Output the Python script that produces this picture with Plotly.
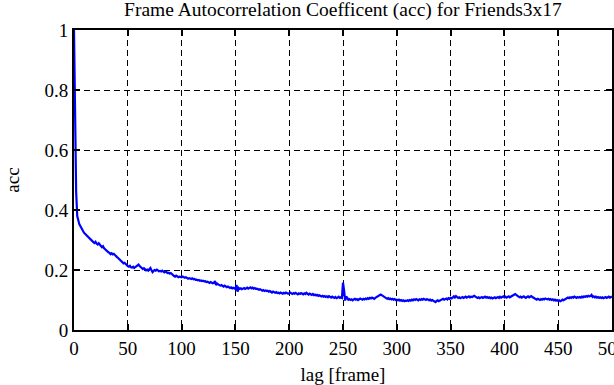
import plotly.graph_objects as go

title_text = "Frame Autocorrelation Coefficent (acc) for Friends3x17"
x_label = "lag [frame]"
y_label = "acc"
x_ticks = [0, 50, 100, 150, 200, 250, 300, 350, 400, 450, 500]
y_ticks = [0, 0.2, 0.4, 0.6, 0.8, 1]
y_tick_labels = ["0", "0.2", "0.4", "0.6", "0.8", "1"]

acc = [
    1.000, 0.700, 0.460, 0.380, 0.362, 0.352, 0.346, 0.338, 0.332, 0.326,
    0.322, 0.318, 0.314, 0.311, 0.306, 0.304, 0.300, 0.297, 0.293, 0.290,
    0.294, 0.288, 0.285, 0.289, 0.283, 0.280, 0.276, 0.279, 0.272, 0.268,
    0.266, 0.262, 0.259, 0.257, 0.253, 0.256, 0.252, 0.254, 0.249, 0.246,
    0.243, 0.240, 0.236, 0.233, 0.229, 0.226, 0.222, 0.224, 0.219, 0.216,
    0.213, 0.211, 0.214, 0.209, 0.208, 0.211, 0.207, 0.210, 0.212, 0.216,
    0.218, 0.213, 0.209, 0.205, 0.203, 0.206, 0.202, 0.199, 0.201, 0.198,
    0.203, 0.207, 0.199, 0.193, 0.197, 0.200, 0.198, 0.201, 0.199, 0.196,
    0.197, 0.195, 0.198, 0.194, 0.192, 0.195, 0.193, 0.190, 0.191, 0.188,
    0.190, 0.186, 0.183, 0.180, 0.178, 0.181, 0.179, 0.176, 0.178, 0.177,
    0.176, 0.178, 0.175, 0.174, 0.176, 0.173, 0.171, 0.173, 0.172, 0.170,
    0.172, 0.169, 0.170, 0.167, 0.168, 0.166, 0.167, 0.164, 0.165, 0.163,
    0.164, 0.162, 0.163, 0.160, 0.161, 0.159, 0.157, 0.160, 0.158, 0.156,
    0.157, 0.163, 0.150, 0.155, 0.152, 0.150, 0.148, 0.150, 0.147, 0.145,
    0.148, 0.146, 0.143, 0.145, 0.142, 0.140, 0.142, 0.139, 0.141, 0.138,
    0.137, 0.150, 0.128, 0.140, 0.137, 0.139, 0.136, 0.138, 0.140, 0.137,
    0.139, 0.141, 0.138, 0.140, 0.142, 0.139, 0.141, 0.138, 0.140, 0.137,
    0.138, 0.136, 0.134, 0.136, 0.133, 0.131, 0.133, 0.130, 0.132, 0.130,
    0.131, 0.128, 0.130, 0.127, 0.125, 0.128, 0.126, 0.124, 0.126, 0.123,
    0.124, 0.122, 0.125, 0.123, 0.121, 0.124, 0.122, 0.125, 0.123, 0.121,
    0.123, 0.125, 0.122, 0.120, 0.123, 0.121, 0.124, 0.122, 0.119, 0.122,
    0.120, 0.123, 0.121, 0.119, 0.122, 0.120, 0.124, 0.121, 0.118, 0.121,
    0.119, 0.117, 0.120, 0.116, 0.118, 0.115, 0.117, 0.114, 0.116, 0.113,
    0.112, 0.114, 0.111, 0.113, 0.110, 0.112, 0.109, 0.113, 0.110, 0.108,
    0.111, 0.109, 0.107, 0.110, 0.106, 0.108, 0.111, 0.107, 0.109, 0.107,
    0.158, 0.132, 0.098, 0.112, 0.104, 0.101, 0.103, 0.100, 0.102, 0.099,
    0.102, 0.104, 0.101, 0.103, 0.100, 0.102, 0.105, 0.103, 0.101, 0.104,
    0.102, 0.105, 0.103, 0.106, 0.104, 0.107, 0.105, 0.108, 0.106, 0.104,
    0.107, 0.109, 0.112, 0.115, 0.117, 0.118, 0.116, 0.114, 0.111, 0.108,
    0.106, 0.104, 0.106, 0.103, 0.105, 0.102, 0.104, 0.101, 0.103, 0.100,
    0.101, 0.099, 0.101, 0.098, 0.100, 0.097, 0.099, 0.096, 0.098, 0.097,
    0.099, 0.097, 0.100, 0.098, 0.101, 0.099, 0.102, 0.100, 0.103, 0.101,
    0.099, 0.102, 0.100, 0.103, 0.101, 0.104, 0.102, 0.100, 0.103, 0.101,
    0.099, 0.101, 0.098, 0.100, 0.097, 0.095, 0.093, 0.097, 0.099, 0.096,
    0.098, 0.100, 0.102, 0.104, 0.101, 0.103, 0.105, 0.102, 0.106, 0.104,
    0.107, 0.105, 0.109, 0.112, 0.108, 0.113, 0.110, 0.107, 0.109, 0.106,
    0.108, 0.110, 0.107, 0.109, 0.111, 0.108, 0.110, 0.112, 0.109, 0.111,
    0.110, 0.112, 0.114, 0.111, 0.109, 0.107, 0.109, 0.106, 0.108, 0.110,
    0.107, 0.109, 0.111, 0.108, 0.110, 0.107, 0.109, 0.106, 0.108, 0.105,
    0.107, 0.109, 0.106, 0.108, 0.110, 0.107, 0.111, 0.108, 0.110, 0.112,
    0.109, 0.111, 0.108, 0.110, 0.112, 0.109, 0.111, 0.113, 0.116, 0.118,
    0.120, 0.117, 0.114, 0.111, 0.109, 0.111, 0.108, 0.110, 0.112, 0.109,
    0.107, 0.110, 0.112, 0.109, 0.111, 0.113, 0.110, 0.108, 0.105, 0.103,
    0.101, 0.104, 0.102, 0.100, 0.103, 0.101, 0.104, 0.102, 0.105, 0.103,
    0.102, 0.104, 0.101, 0.103, 0.100, 0.102, 0.099, 0.101, 0.098, 0.100,
    0.097, 0.099, 0.096, 0.098, 0.101, 0.099, 0.102, 0.104, 0.106, 0.108,
    0.106, 0.109, 0.107, 0.110, 0.108, 0.111, 0.109, 0.107, 0.110, 0.108,
    0.110, 0.108, 0.111, 0.109, 0.112, 0.110, 0.113, 0.111, 0.114, 0.112,
    0.113, 0.117, 0.110, 0.112, 0.109, 0.111, 0.108, 0.110, 0.107, 0.109,
    0.107, 0.109, 0.106, 0.108, 0.110, 0.107, 0.109, 0.111, 0.108, 0.110,
    0.112,
]
lag = list(range(len(acc)))

FONT = "'Liberation Serif', 'Times New Roman', 'DejaVu Serif', serif"

fig = go.Figure()
fig.add_trace(go.Scatter(
    x=lag, y=acc, mode="lines",
    line=dict(color="#0000ff", width=2.2),
    showlegend=False,
))

axis_common = dict(
    showline=True, linecolor="black", linewidth=2, mirror="allticks",
    ticks="inside", ticklen=6, tickwidth=2, tickcolor="black",
    showgrid=True, gridcolor="black", gridwidth=1, griddash="6px,4px",
    zeroline=False, automargin=False, ticklabeloverflow="allow",
    tickfont=dict(family=FONT, size=19, color="black"),
)

fig.update_xaxes(
    range=[0, 500], tickvals=x_ticks, ticktext=[str(v) for v in x_ticks],
    title=dict(text=x_label, font=dict(family=FONT, size=19, color="black"), standoff=10),
    **axis_common,
)
fig.update_yaxes(
    range=[0, 1], tickvals=y_ticks, ticktext=y_tick_labels,
    title=dict(text=y_label, font=dict(family=FONT, size=19, color="black"), standoff=20),
    **axis_common,
)

fig.update_layout(
    width=614, height=385,
    margin=dict(l=74, r=2, t=30, b=55, autoexpand=False),
    paper_bgcolor="white", plot_bgcolor="white",
    title=dict(text=title_text, x=0.5585, xanchor="center", y=0.995, yanchor="top",
               font=dict(family=FONT, size=19.5, color="black")),
    font=dict(family=FONT, color="black"),
)

fig.write_html(
    "out.html",
    config={"displayModeBar": False},
    post_script="document.body.style.margin='0';document.body.style.overflow='hidden';",
)
